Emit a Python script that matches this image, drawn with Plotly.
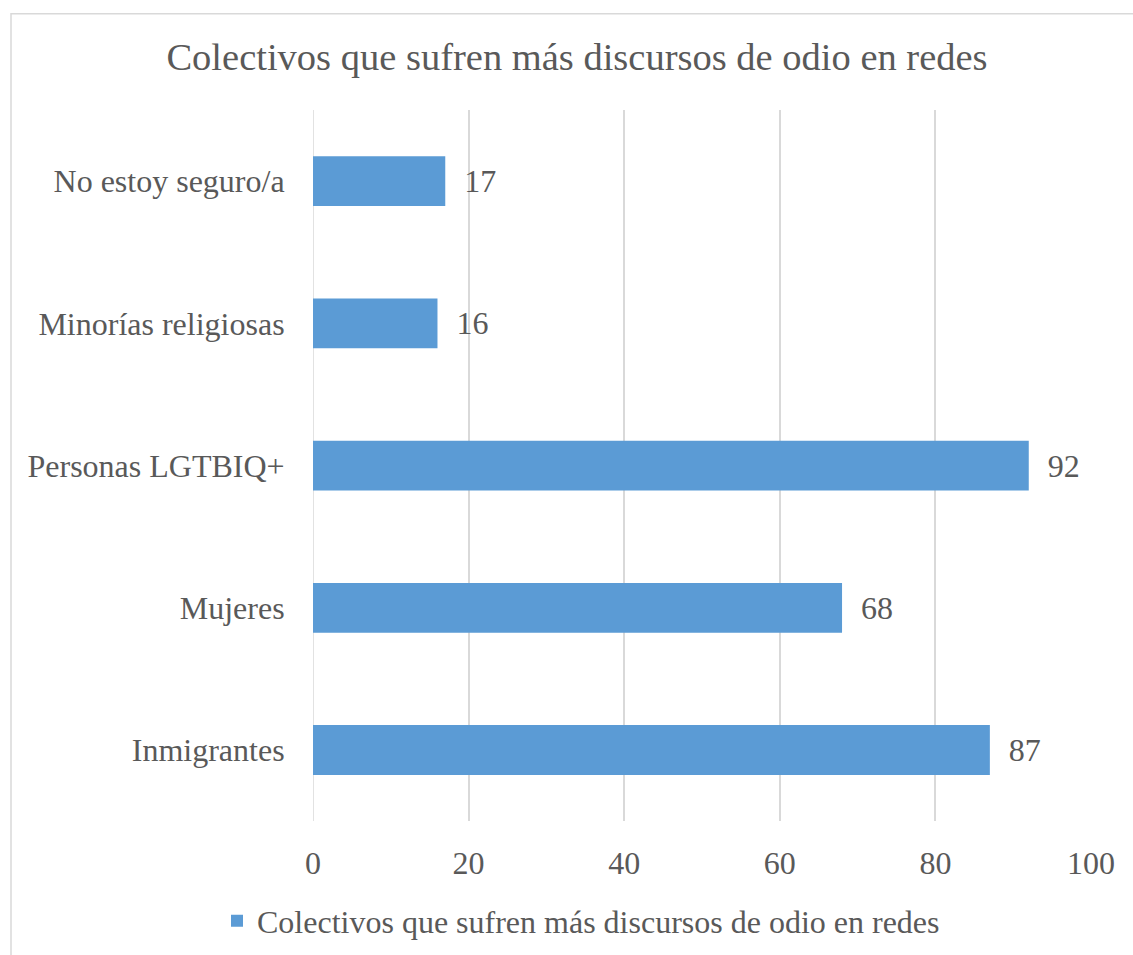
import plotly.graph_objects as go

categories = ["Inmigrantes", "Mujeres", "Personas LGTBIQ+", "Minorías religiosas", "No estoy seguro/a"]
values = [87, 68, 92, 16, 17]
series_name = "Colectivos que sufren más discursos de odio en redes"
title_text = "Colectivos que sufren más discursos de odio en redes"
x_ticks = [0, 20, 40, 60, 80, 100]

FONT = "Times New Roman"
TXT = "#595959"

W, H = 1133, 955
L, R, T, B = 313, 42, 110, 128
pw, ph = W - L - R, H - T - B

def px_to_paper_x(px):
    return (px - L) / pw

def px_to_paper_y(py):
    return (H - B - py) / ph

fig = go.Figure()
fig.add_trace(go.Bar(
    y=categories, x=values, orientation="h",
    name=series_name,
    marker=dict(color="#5b9bd5", line=dict(width=0)),
    width=0.35,
    text=values,
    texttemplate="  %{x}",
    textposition="outside",
    textfont=dict(family=FONT, size=32, color=TXT),
    cliponaxis=False,
    showlegend=True,
))

fig.update_layout(
    width=W, height=H,
    margin=dict(l=L, r=R, t=T, b=B),
    paper_bgcolor="white", plot_bgcolor="white",
    font=dict(family=FONT, size=32, color=TXT),
    title=dict(text=title_text, font=dict(family=FONT, size=38.5, color=TXT),
               x=577 / W, xanchor="center", xref="container",
               y=1 - 57 / H, yanchor="middle", yref="container"),
    xaxis=dict(range=[0, 100], tickvals=x_ticks, showgrid=True, gridcolor="#d9d9d9", gridwidth=1.5,
               zeroline=False, showline=False, ticks="outside", ticklen=14,
               tickcolor="rgba(0,0,0,0)", tickfont=dict(family=FONT, size=32, color=TXT)),
    yaxis=dict(categoryorder="array", categoryarray=categories, range=[-0.5, 4.5],
               showgrid=False, zeroline=False, showline=False, ticks="outside", ticklen=21,
               tickcolor="rgba(0,0,0,0)", tickfont=dict(family=FONT, size=32, color=TXT)),
    showlegend=True,
    legend=dict(orientation="h", xref="container", yref="container",
                x=581 / W, xanchor="center", y=1 - 921 / H, yanchor="middle",
                font=dict(family=FONT, size=32, color=TXT), itemwidth=30),
    bargap=0.65,
)

# vertical line at 0 like gridline
fig.add_shape(type="line", xref="x", yref="paper", x0=0, x1=0, y0=0, y1=1,
              line=dict(color="#d9d9d9", width=1.5), layer="below")

# chart border
fig.add_shape(type="rect", xref="paper", yref="paper",
              x0=px_to_paper_x(11), x1=px_to_paper_x(1160),
              y0=px_to_paper_y(1000), y1=px_to_paper_y(13),
              line=dict(color="#d9d9d9", width=1.5), fillcolor="rgba(0,0,0,0)", layer="below")

fig.write_html("out.html")
